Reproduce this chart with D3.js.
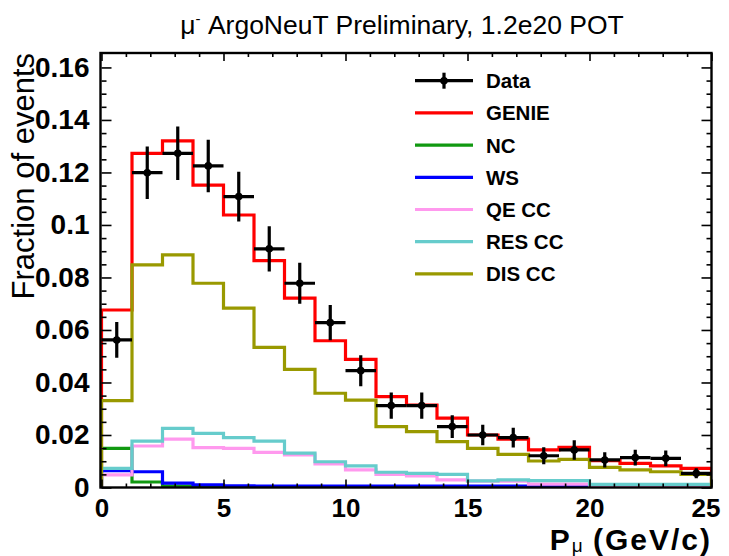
<!DOCTYPE html>
<html>
<head>
<meta charset="utf-8">
<script src="https://cdn.jsdelivr.net/npm/d3@7"></script>
<style>
  body { margin: 0; background: #fff; }
  svg { display: block; }
  text { font-family: "Liberation Sans", Arial, Helvetica, sans-serif; }
</style>
</head>
<body>
<svg id="chart" width="729" height="556"></svg>
<script>
// ---- data ----
const binLow = [0, 1.25, 2.5, 3.75, 5, 6.25, 7.5, 8.75, 10, 11.25, 12.5, 13.75, 15, 16.25, 17.5, 18.75, 20, 21.25, 22.5, 23.75];
const binWidth = 1.25;
const genie = [0.0676,0.1273,0.1320,0.1152,0.1038,0.0864,0.0721,0.0559,0.0488,0.0346,0.0314,0.0264,0.0200,0.0184,0.0143,0.0153,0.0102,0.0092,0.0082,0.0073];
const nc    = [0.0149,0.0021,0.0005,0.0003,0.0002,0.0002,0.0001,0,0,0,0,0,0,0,0,0,0,0,0,0];
const ws    = [0.0064,0.0060,0.0017,0.0010,0.0006,0.0005,0.0005,0.0005,0.0005,0.0005,0.0005,0.0005,0.0005,0.0005,0.0005,0.0005,0.0005,0.0005,0.0005,0.0005];
const qecc  = [0.0048,0.0158,0.0184,0.0152,0.0149,0.0134,0.0124,0.0090,0.0067,0.0050,0.0044,0.0029,0.0024,0.0024,0.0013,0.0013,0.0008,0.0008,0.0008,0.0008];
const rescc = [0.0073,0.0177,0.0225,0.0206,0.0190,0.0177,0.0131,0.0098,0.0082,0.0058,0.0054,0.0050,0.0025,0.0029,0.0026,0.0026,0.0012,0.0012,0.0012,0.0012];
const discc = [0.0331,0.0848,0.0886,0.0778,0.0683,0.0534,0.0450,0.0359,0.0333,0.0232,0.0213,0.0175,0.0149,0.0126,0.0101,0.0107,0.0077,0.0067,0.0060,0.0050];
const dataVals = [0.0562,0.1199,0.1273,0.1225,0.1108,0.0909,0.0778,0.0628,0.0445,0.0312,0.0312,0.0232,0.0200,0.0190,0.0121,0.0143,0.0105,0.0114,0.0111,0.0054];
const dataErr  = [0.0068,0.0100,0.0102,0.0100,0.0095,0.0086,0.0078,0.0067,0.0059,0.0050,0.0050,0.0043,0.0039,0.0038,0.0032,0.0037,0.0029,0.0030,0.0030,0.0019];

const xMajorTicks = [0, 5, 10, 15, 20, 25];
const xMinorTicks = [1,2,3,4,6,7,8,9,11,12,13,14,16,17,18,19,21,22,23,24];
const yMajorTicks = [0, 0.02, 0.04, 0.06, 0.08, 0.1, 0.12, 0.14, 0.16];
const yMinorTicks = [0.005,0.01,0.015,0.025,0.03,0.035,0.045,0.05,0.055,0.065,0.07,0.075,0.085,0.09,0.095,0.105,0.11,0.115,0.125,0.13,0.135,0.145,0.15,0.155];

const legendLabels = ["Data", "GENIE", "NC", "WS", "QE CC", "RES CC", "DIS CC"];
const legendColors = ["#000000", "#ff0000", "#119911", "#0000ff", "#ff99ee", "#66cccc", "#999900"];

// series in drawing order
const histSeries = [
  { name: "GENIE", values: genie, color: "#ff0000" },
  { name: "NC", values: nc, color: "#119911" },
  { name: "WS", values: ws, color: "#0000ff" },
  { name: "QE CC", values: qecc, color: "#ff99ee" },
  { name: "RES CC", values: rescc, color: "#66cccc" },
  { name: "DIS CC", values: discc, color: "#999900" }
];

// ---- layout ----
const L = 101.5, R = 711.5, T = 53, B = 487.5;
const svg = d3.select("#chart");
const x = d3.scaleLinear().domain([0, 25]).range([L, R]);
const y = d3.scaleLinear().domain([0, 0.1655]).range([B, T]);

const defs = svg.append("defs");
defs.append("clipPath").attr("id", "plotclip")
  .append("rect").attr("x", L - 2).attr("y", T).attr("width", R - L + 2).attr("height", B - T);

const plot = svg.append("g").attr("clip-path", "url(#plotclip)");

// histograms as step outlines
function stepPath(vals) {
  const p = d3.path();
  p.moveTo(x(binLow[0]), y(0));
  vals.forEach((v, i) => {
    p.lineTo(x(binLow[i]), y(v));
    p.lineTo(x(binLow[i] + binWidth), y(v));
  });
  p.lineTo(x(binLow[binLow.length - 1] + binWidth), y(0));
  return p.toString();
}
histSeries.forEach(s => {
  plot.append("path")
    .attr("d", stepPath(s.values))
    .attr("fill", "none")
    .attr("stroke", s.color)
    .attr("stroke-width", 3.2)
    .attr("stroke-linejoin", "miter");
});

// data points with errors
const dg = plot.append("g");
dataVals.forEach((v, i) => {
  const cx = x(binLow[i] + binWidth / 2);
  dg.append("line").attr("x1", x(binLow[i])).attr("x2", x(binLow[i] + binWidth))
    .attr("y1", y(v)).attr("y2", y(v)).attr("stroke", "#000").attr("stroke-width", 3.2);
  dg.append("line").attr("x1", cx).attr("x2", cx)
    .attr("y1", y(v - dataErr[i])).attr("y2", y(v + dataErr[i])).attr("stroke", "#000").attr("stroke-width", 3.2);
  dg.append("circle").attr("cx", cx).attr("cy", y(v)).attr("r", 3.8).attr("fill", "#000");
});

// ---- axes ----
const tickFont = size => g => g.selectAll("text")
  .style("font-family", '"Liberation Sans", Arial, sans-serif')
  .style("font-weight", "bold").style("font-size", size + "px").attr("fill", "#000");
const yfmt = d => d === 0 ? "0" : String(+d.toFixed(2));

const axStroke = g => { g.select(".domain").remove(); g.selectAll("line").attr("stroke", "#000").attr("stroke-width", 1.6); };

// bottom
svg.append("g").attr("transform", `translate(0,${B})`)
  .call(d3.axisBottom(x).tickValues(xMajorTicks).tickSize(-8).tickPadding(11).tickFormat(d3.format("d")))
  .call(axStroke).call(tickFont(26))
  .call(g => g.selectAll("text").filter(d => d === 25).attr("dx", -6));
svg.append("g").attr("transform", `translate(0,${B})`)
  .call(d3.axisBottom(x).tickValues(xMinorTicks).tickSize(-4).tickFormat(""))
  .call(axStroke);
// top
svg.append("g").attr("transform", `translate(0,${T})`)
  .call(d3.axisTop(x).tickValues(xMajorTicks).tickSize(-8).tickFormat(""))
  .call(axStroke);
svg.append("g").attr("transform", `translate(0,${T})`)
  .call(d3.axisTop(x).tickValues(xMinorTicks).tickSize(-4).tickFormat(""))
  .call(axStroke);
// left
svg.append("g").attr("transform", `translate(${L},0)`)
  .call(d3.axisLeft(y).tickValues(yMajorTicks).tickSize(-10).tickPadding(12).tickFormat(yfmt))
  .call(axStroke).call(tickFont(28));
svg.append("g").attr("transform", `translate(${L},0)`)
  .call(d3.axisLeft(y).tickValues(yMinorTicks).tickSize(-5).tickFormat(""))
  .call(axStroke);
// right
svg.append("g").attr("transform", `translate(${R},0)`)
  .call(d3.axisRight(y).tickValues(yMajorTicks).tickSize(-10).tickFormat(""))
  .call(axStroke);
svg.append("g").attr("transform", `translate(${R},0)`)
  .call(d3.axisRight(y).tickValues(yMinorTicks).tickSize(-5).tickFormat(""))
  .call(axStroke);

// frame
svg.append("rect").attr("x", L - 1).attr("y", T).attr("width", R - L + 1).attr("height", B - T)
  .attr("fill", "none").attr("stroke", "#000").attr("stroke-width", 2.4);

// ---- legend ----
const lg = svg.append("g");
legendLabels.forEach((lab, i) => {
  const ly = 80.7 + i * 32.2;
  lg.append("line").attr("x1", 415).attr("x2", 473).attr("y1", ly).attr("y2", ly)
    .attr("stroke", legendColors[i]).attr("stroke-width", 3.2);
  if (i === 0) {
    lg.append("line").attr("x1", 444).attr("x2", 444).attr("y1", ly - 8).attr("y2", ly + 8)
      .attr("stroke", "#000").attr("stroke-width", 3.2);
    lg.append("circle").attr("cx", 444).attr("cy", ly).attr("r", 3.8).attr("fill", "#000");
  }
  lg.append("text").attr("x", 486).attr("y", ly + 7.5)
    .style("font-weight", "bold").style("font-size", "20.5px").text(lab);
});

// ---- titles ----
const title = svg.append("text").attr("x", 402).attr("y", 34).attr("text-anchor", "middle")
  .style("font-size", "26.5px");
title.append("tspan").text("μ");
title.append("tspan").attr("dy", -10).style("font-size", "15px").text("-");
title.append("tspan").attr("dy", 10).text(" ArgoNeuT Preliminary, 1.2e20 POT");

const xt = svg.append("text").attr("x", 712).attr("y", 550).attr("text-anchor", "end")
  .style("font-weight", "bold").style("font-size", "30px").style("letter-spacing", "2px");
xt.append("tspan").text("P");
xt.append("tspan").attr("dy", 2).style("font-weight", "normal").style("font-size", "19px").style("letter-spacing", "0px").text("μ");
xt.append("tspan").attr("dy", -2).text(" (GeV/c)");

svg.append("text").attr("transform", "rotate(-90)").attr("x", -53).attr("y", 34)
  .attr("text-anchor", "end").style("font-size", "31px").text("Fraction of events");
</script>
</body>
</html>
